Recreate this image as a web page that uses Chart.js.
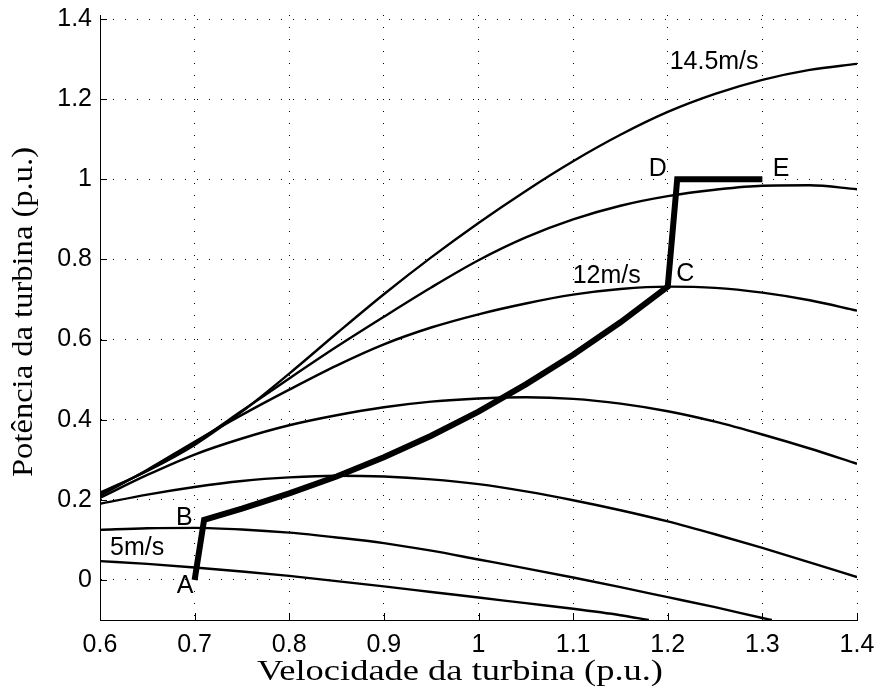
<!DOCTYPE html>
<html>
<head>
<meta charset="utf-8">
<script src="https://cdn.jsdelivr.net/npm/chart.js@4.4.1/dist/chart.umd.min.js"></script>
<style>
html,body{margin:0;padding:0;background:#fff;}
#wrap{width:880px;height:699px;position:relative;}
canvas{display:block;}
</style>
</head>
<body>
<div id="wrap"><canvas id="c" width="880" height="699"></canvas></div>
<script>
// ---- data ----
const speedX = [0.60,0.65,0.70,0.75,0.80,0.85,0.90,0.95,1.00,1.05,1.10,1.15,1.20,1.25,1.30,1.35,1.40];
const p14_5 = [0.218,0.272,0.337,0.420,0.515,0.615,0.713,0.805,0.891,0.971,1.045,1.111,1.168,1.213,1.248,1.273,1.288];
const p13   = [0.215,0.273,0.342,0.422,0.503,0.582,0.657,0.730,0.798,0.855,0.900,0.934,0.958,0.974,0.984,0.985,0.975];
const p12   = [0.210,0.275,0.345,0.412,0.475,0.535,0.588,0.630,0.663,0.690,0.712,0.726,0.732,0.729,0.717,0.698,0.672];
const p10   = [0.205,0.262,0.313,0.353,0.386,0.411,0.431,0.445,0.453,0.456,0.452,0.440,0.421,0.395,0.363,0.328,0.290];
const p8_5  = [0.190,0.213,0.232,0.247,0.256,0.260,0.258,0.251,0.239,0.221,0.199,0.174,0.146,0.114,0.080,0.044,0.007];
const x7    = [0.60,0.65,0.70,0.75,0.80,0.85,0.90,0.95,1.00,1.05,1.10,1.15,1.20,1.25,1.30,1.31];
const p7    = [0.125,0.129,0.130,0.126,0.118,0.106,0.092,0.073,0.051,0.029,0.006,-0.018,-0.043,-0.068,-0.095,-0.100];
const x5    = [0.60,0.65,0.70,0.75,0.80,0.85,0.90,0.95,1.00,1.05,1.10,1.15,1.18];
const p5    = [0.047,0.040,0.031,0.021,0.010,-0.003,-0.016,-0.030,-0.044,-0.058,-0.072,-0.088,-0.100];
const mpptX = [0.70,0.71,0.75,0.80,0.85,0.90,0.95,1.00,1.05,1.10,1.15,1.20,1.21,1.30];
const mpptP = [0.000,0.150,0.178,0.216,0.258,0.306,0.360,0.420,0.488,0.562,0.643,0.732,1.000,1.000];

const xTicks = [0.6,0.7,0.8,0.9,1.0,1.1,1.2,1.3,1.4];
const xTickLabels = ["0.6","0.7","0.8","0.9","1","1.1","1.2","1.3","1.4"];
const yTicks = [0,0.2,0.4,0.6,0.8,1.0,1.2,1.4];
const yTickLabels = ["0","0.2","0.4","0.6","0.8","1","1.2","1.4"];

const xTitle = "Velocidade da turbina (p.u.)";
const yTitle = "Potência da turbina (p.u.)";

// text annotations (anchor in data coordinates: left edge, baseline)
const noteText = ["14.5m/s","12m/s","5m/s","A","B","C","D","E"];
const noteX    = [1.202,1.0995,0.6106,0.6811,0.6803,1.2089,1.180,1.311];
const noteY    = [1.275,0.742,0.0625,-0.033,0.1375,0.746,1.008,1.008];

// ---- chart ----
const pts = (xs, ys) => xs.map((x, i) => ({x: x, y: ys[i]}));
const thin = (xs, ys) => ({
  data: pts(xs, ys), borderColor: '#000', borderWidth: 2.4, pointRadius: 0,
  fill: false, cubicInterpolationMode: 'monotone'
});

const SANS = '"Liberation Sans", Arial, Helvetica, sans-serif';
const SERIF = '"Liberation Serif", "Times New Roman", serif';

const noPad = s => { s.paddingTop = 0; s.paddingBottom = 0; s.paddingLeft = 0; s.paddingRight = 0; };

const extras = {
  id: 'extras',
  afterDatasetsDraw(chart) {
    const ctx = chart.ctx, xs = chart.scales.x, ys = chart.scales.y, a = chart.chartArea;
    ctx.save();
    ctx.strokeStyle = '#000';
    ctx.lineWidth = 1;
    ctx.beginPath();
    xTicks.forEach(v => {
      const px = Math.round(xs.getPixelForValue(v)) + 0.5;
      ctx.moveTo(px, a.bottom); ctx.lineTo(px, a.bottom - 7);
    });
    yTicks.forEach(v => {
      const py = Math.round(ys.getPixelForValue(v)) + 0.5;
      ctx.moveTo(a.left, py); ctx.lineTo(a.left + 7, py);
    });
    ctx.stroke();
    // annotations
    ctx.fillStyle = '#000';
    ctx.font = '25px ' + SANS;
    ctx.textAlign = 'left';
    ctx.textBaseline = 'alphabetic';
    noteText.forEach((t, i) => {
      ctx.fillText(t, xs.getPixelForValue(noteX[i]), ys.getPixelForValue(noteY[i]));
    });
    // axis titles
    ctx.font = '30px ' + SERIF;
    let w = ctx.measureText(xTitle).width;
    ctx.save();
    ctx.translate(257, 680);
    ctx.scale(406 / w, 1);
    ctx.fillText(xTitle, 0, 0);
    ctx.restore();
    w = ctx.measureText(yTitle).width;
    ctx.save();
    ctx.translate(32, 477);
    ctx.rotate(-Math.PI / 2);
    ctx.scale(330 / w, 1);
    ctx.fillText(yTitle, 0, 0);
    ctx.restore();
    ctx.restore();
  }
};

new Chart(document.getElementById('c'), {
  type: 'line',
  data: {
    datasets: [
      { data: pts(mpptX, mpptP), borderColor: '#000', borderWidth: 6, pointRadius: 0,
        fill: false, tension: 0, borderCapStyle: 'butt', borderJoinStyle: 'miter' },
      thin(speedX, p14_5),
      thin(speedX, p13),
      thin(speedX, p12),
      thin(speedX, p10),
      thin(speedX, p8_5),
      thin(x7, p7),
      thin(x5, p5)
    ]
  },
  options: {
    responsive: false,
    animation: false,
    devicePixelRatio: 1,
    layout: { padding: { left: 0, right: 23, top: 15, bottom: 0 } },
    plugins: { legend: { display: false }, tooltip: { enabled: false } },
    scales: {
      x: {
        type: 'linear', min: 0.6, max: 1.4,
        afterBuildTicks: s => { s.ticks = xTicks.map(v => ({ value: v })); },
        afterFit: s => { s.height = 79; noPad(s); },
        ticks: {
          callback: (v, i) => xTickLabels[i],
          font: { family: SANS, size: 25 }, color: '#000',
          padding: 10, maxRotation: 0, autoSkip: false
        },
        grid: { color: '#000', lineWidth: 1, drawTicks: false },
        border: { display: true, color: '#000', width: 1, dash: [1, 11] }
      },
      y: {
        type: 'linear', min: -0.1, max: 1.41,
        afterBuildTicks: s => { s.ticks = yTicks.map(v => ({ value: v })); },
        afterFit: s => { s.width = 100; noPad(s); },
        ticks: {
          callback: (v, i) => yTickLabels[i],
          font: { family: SANS, size: 25 }, color: '#000',
          padding: 8, autoSkip: false
        },
        grid: { color: '#000', lineWidth: 1, drawTicks: false },
        border: { display: true, color: '#000', width: 1, dash: [1, 11] }
      }
    }
  },
  plugins: [extras]
});
</script>
</body>
</html>
